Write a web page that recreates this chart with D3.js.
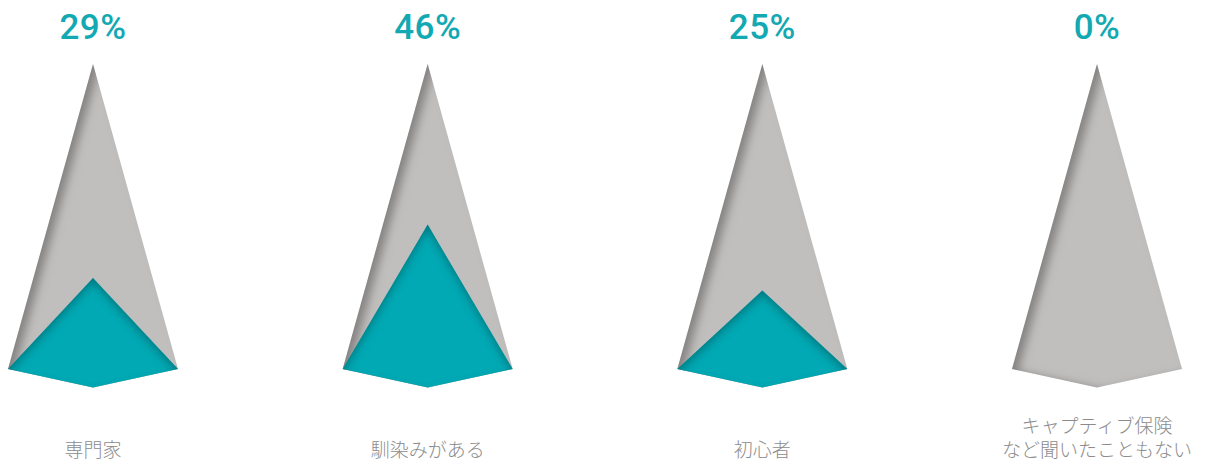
<!DOCTYPE html>
<html lang="ja">
<head>
<meta charset="UTF-8">
<title>Arrow chart</title>
<script src="https://cdnjs.cloudflare.com/ajax/libs/d3/7.8.5/d3.min.js"></script>
<style>
  body { margin: 0; background: #fff; }
  .pct { font-family: Roboto, "Liberation Sans", Arial, sans-serif; font-weight: 500; font-size: 35px; fill: #13a9b3; letter-spacing: 0.5px; }
  .lbl { font-family: "Noto Sans CJK JP", sans-serif; font-weight: 300; font-size: 19px; fill: #8c8c8c; }
</style>
</head>
<body>
<svg id="chart" width="1205" height="462"></svg>
<script>
const categories = ["専門家", "馴染みがある", "初心者", "キャプティブ保険\nなど聞いたこともない"];
const values = [29, 46, 25, 0];
const valueLabels = ["29%", "46%", "25%", "0%"];

const svg = d3.select("#chart");

// layout
const halfW = 85;
const tipY = 64;
const cornerY = 369;
const bottomY = 387.5;

const x = d3.scalePoint().domain(categories).range([93, 1097]).padding(0);
// peak height of the teal part
const y = d3.scaleLinear().domain([0, 100]).range([cornerY, 55]);

const defs = svg.append("defs");

// inner shadow (dark along edges)
function innerShadow(id, dx, dy, blur, opacity) {
  const f = defs.append("filter").attr("id", id)
    .attr("x", "-20%").attr("y", "-20%").attr("width", "140%").attr("height", "140%");
  f.append("feComponentTransfer").attr("in", "SourceAlpha")
    .append("feFuncA").attr("type", "table").attr("tableValues", "1 0");
  f.append("feGaussianBlur").attr("stdDeviation", blur);
  f.append("feOffset").attr("dx", dx).attr("dy", dy).attr("result", "off");
  f.append("feFlood").attr("flood-color", "#000").attr("flood-opacity", opacity);
  f.append("feComposite").attr("in2", "off").attr("operator", "in");
  f.append("feComposite").attr("in2", "SourceAlpha").attr("operator", "in").attr("result", "shadow");
  const m = f.append("feMerge");
  m.append("feMergeNode").attr("in", "SourceGraphic");
  m.append("feMergeNode").attr("in", "shadow");
}
innerShadow("greyShadow", 7, 2, 4, 0.55);
innerShadow("tealShadow", 0, 5, 4, 0.5);

const line = d3.line();

const g = svg.append("g");

categories.forEach((c, i) => {
  const cx = x(c);

  // grey background arrow
  g.append("path")
    .attr("d", line([[cx, tipY], [cx + halfW, cornerY], [cx, bottomY], [cx - halfW, cornerY]]) + "Z")
    .attr("fill", "#c1bfbe")
    .attr("filter", "url(#greyShadow)");

  // teal value part
  if (values[i] > 0) {
    g.append("path")
      .attr("d", line([[cx, y(values[i])], [cx + halfW, cornerY], [cx, bottomY], [cx - halfW, cornerY]]) + "Z")
      .attr("fill", "#00a9b4")
      .attr("filter", "url(#tealShadow)");
  }

  // percentage
  svg.append("text")
    .attr("class", "pct")
    .attr("x", cx)
    .attr("y", 39)
    .attr("text-anchor", "middle")
    .text(valueLabels[i]);

  // category label
  const lines = c.split("\n");
  const t = svg.append("text")
    .attr("class", "lbl")
    .attr("text-anchor", "middle");
  lines.forEach((ln, j) => {
    t.append("tspan")
      .attr("x", cx)
      .attr("y", 457 - (lines.length - 1 - j) * 24)
      .text(ln);
  });
});
</script>
</body>
</html>
